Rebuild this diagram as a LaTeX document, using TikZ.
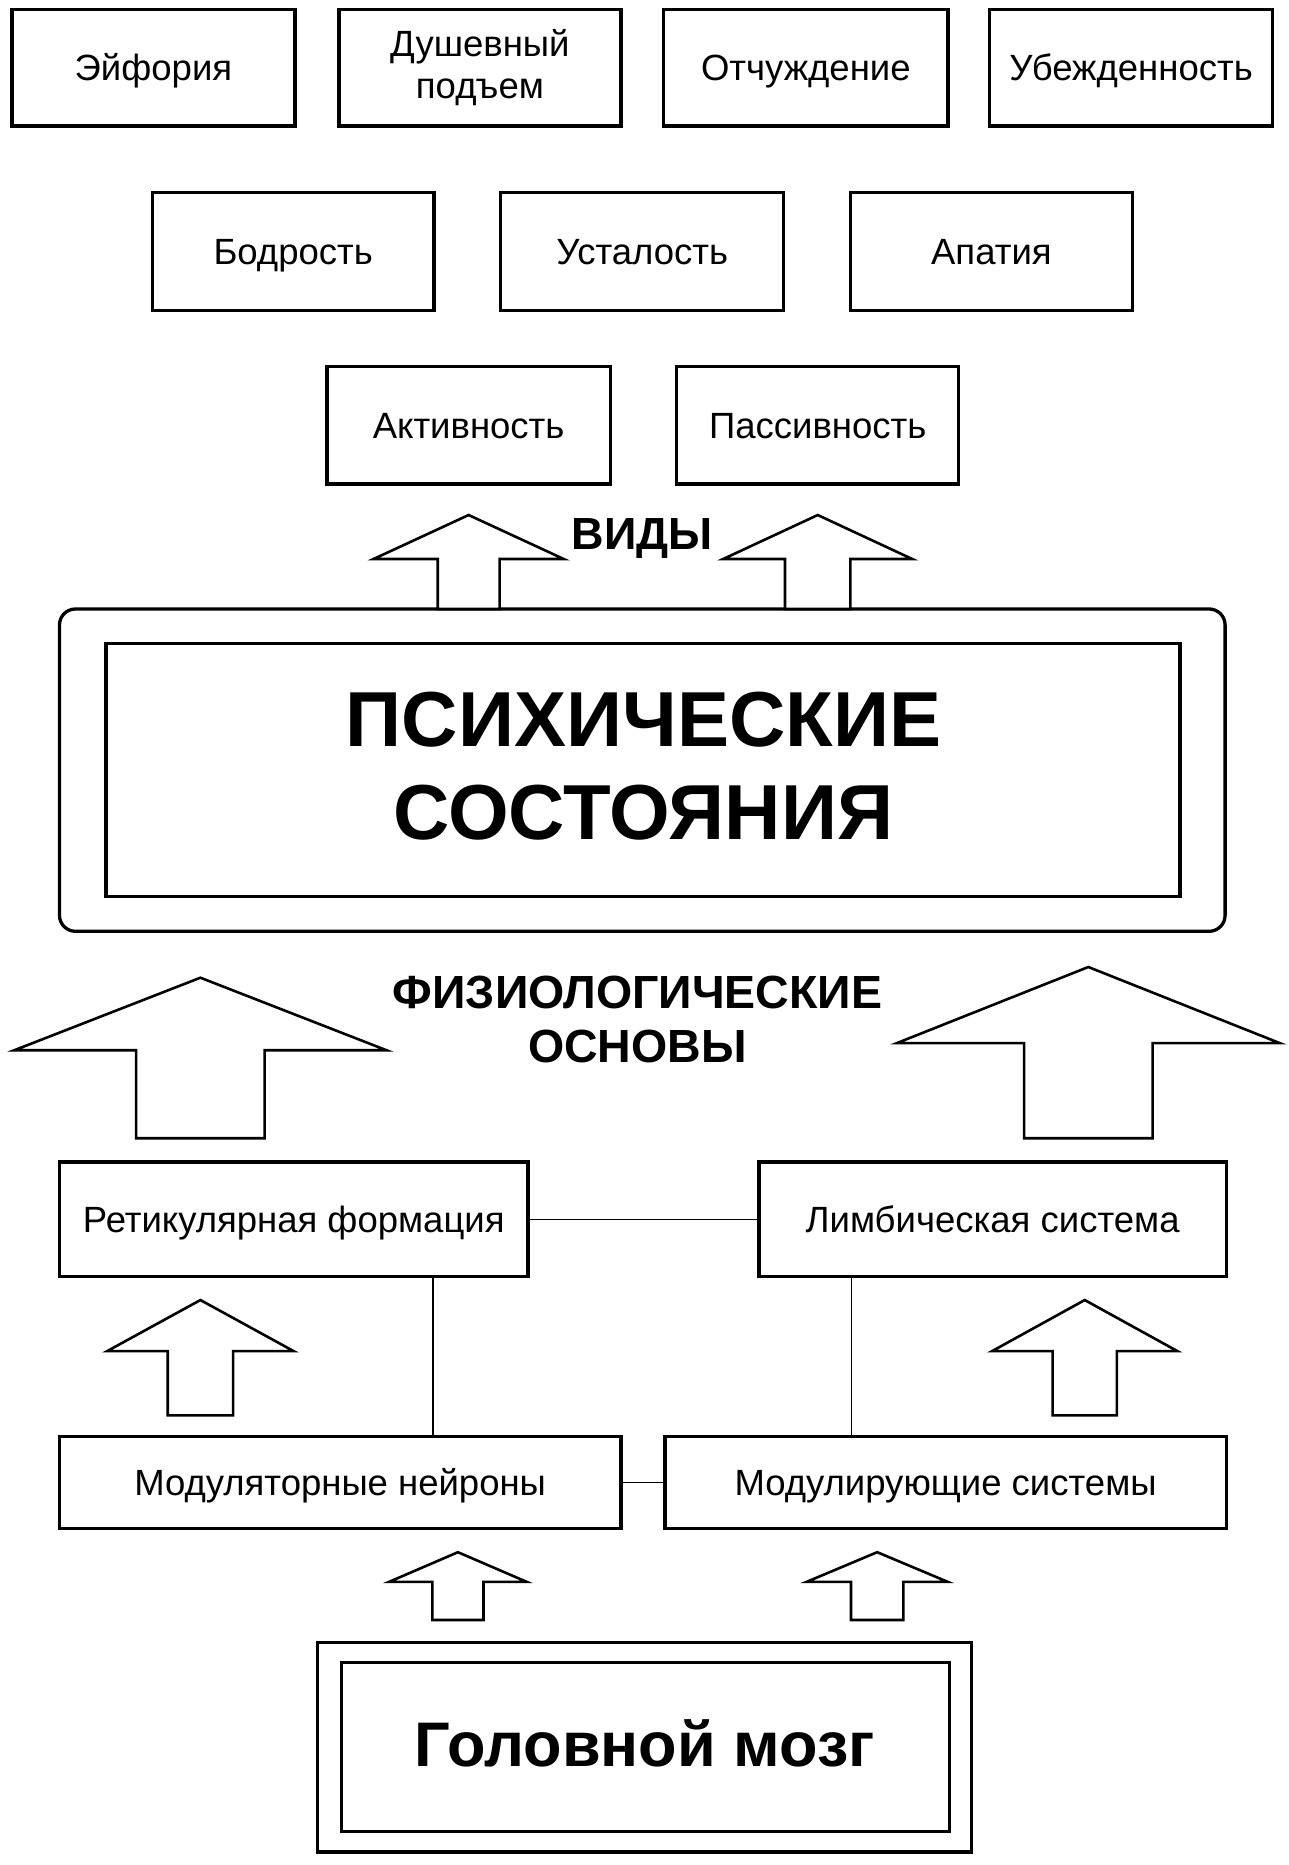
\documentclass[tikz,border=0pt]{standalone}
\usepackage{fontspec}
\setmainfont{Liberation Sans}
\usetikzlibrary{calc}
\begin{document}
\begin{tikzpicture}[x=1.1893pt,y=-1.1893pt,
  box/.style={draw, line width=3.3pt, inner sep=0pt, align=center, font=\fontsize{36.5}{42}\selectfont},
  bx/.style 2 args={box, minimum width=#1*1.1893pt, minimum height=#2*1.1893pt, text height=35pt, text depth=9pt},
  bx2/.style 2 args={box, minimum width=#1*1.1893pt, minimum height=#2*1.1893pt},
  frame/.style={draw, line width=3.3pt, inner sep=0pt},
  blockarrow/.style={draw, line width=2.6pt, fill=white, line join=miter},
  link/.style={line width=1.3pt},
  bigtext/.style={font=\bfseries\fontsize{78}{93}\selectfont, align=center, inner sep=0pt},
  lbl/.style={font=\bfseries\fontsize{#1}{#1}\selectfont, align=center, inner sep=0pt}]
\useasboundingbox[fill=white] (0,0) rectangle (1083,1568);
\newcommand\blockup[6]{%
  \draw[blockarrow] (#1,#2) -- (#1+#4,#3) -- (#1+#5,#3) -- (#1+#5,#6) -- (#1-#5,#6) -- (#1-#5,#3) -- (#1-#4,#3) -- cycle;}
% row 1
\node[bx={238}{98}] (eyf) at (129,57) {Эйфория};
\node[bx2={237}{98}] (dush) at (403.5,57) {Душевный\\подъем};
\node[bx={239}{98}] (otch) at (677.5,57) {Отчуждение};
\node[bx={238}{98}] (ubezh) at (951,57) {Убежденность};
% row 2
\node[bx={237}{99}] (bodr) at (246.5,211.5) {Бодрость};
\node[bx={238}{99}] (ustal) at (540,211.5) {Усталость};
\node[bx={237}{99}] (apat) at (833.5,211.5) {Апатия};
% row 3
\node[bx={238}{99}] (aktiv) at (394,357.5) {Активность};
\node[bx={237}{99}] (passiv) at (687.5,357.5) {Пассивность};
% main block
\node[frame, rounded corners=16pt, minimum width=980*1.1893pt, minimum height=271*1.1893pt] (outer) at (540,647.5) {};
\node[frame, minimum width=903*1.1893pt, minimum height=213*1.1893pt] (inner) at (540.5,647.5) {};
\node[bigtext] (psy) at (541,644) {ПСИХИЧЕСКИЕ\\СОСТОЯНИЯ};
% vidy arrows
\blockup{394}{433}{470}{80}{26}{512}
\blockup{687.5}{433}{470}{79.5}{27.5}{512}
\node[lbl=45] (vidy) at (540,453) {ВИДЫ};
% physiological
\node[font=\bfseries\fontsize{46.5}{53.5}\selectfont, align=center, inner sep=0pt] (phys) at (536,857) {ФИЗИОЛОГИЧЕСКИЕ\\ОСНОВЫ};
\blockup{168.5}{822}{883}{156.5}{54}{957}
\blockup{915}{813}{877}{161}{54}{957}
% middle row
\node[bx={394}{96}] (ret) at (247,1025) {Ретикулярная формация};
\node[bx={393}{96}] (limb) at (834.5,1025) {Лимбическая система};
\draw[link] (ret.east) -- (limb.west);
\blockup{168.5}{1093}{1136}{78.5}{27.5}{1190}
\blockup{912}{1093}{1136}{78}{27}{1190}
% lower row
\node[bx={472}{77}] (modn) at (286,1246.5) {Модуляторные нейроны};
\node[bx={472}{77}] (mods) at (795,1246.5) {Модулирующие системы};
\draw[link] (modn.east) -- (mods.west);
\coordinate (v1) at (364,0);
\coordinate (v2) at (716,0);
\draw[link] (ret.south -| v1) -- (modn.north -| v1);
\draw[link] (limb.south -| v2) -- (mods.north -| v2);
\blockup{385}{1305}{1330}{58}{21.5}{1362}
\blockup{737.5}{1305}{1330}{59.5}{22}{1362}
% brain
\node[frame, minimum width=550*1.1893pt, minimum height=176*1.1893pt] (brainout) at (542,1469) {};
\node[frame, minimum width=511*1.1893pt, minimum height=142*1.1893pt] (brainin) at (542.5,1469) {};
\node[lbl=63] (brain) at (542,1466) {Головной мозг};
\end{tikzpicture}
\end{document}
